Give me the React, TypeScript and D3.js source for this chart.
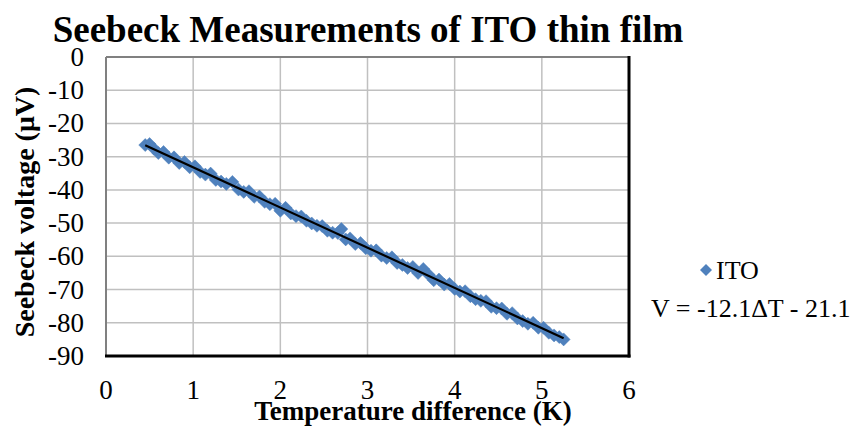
import React from "react";
import * as d3 from "d3";

const xValues = [
  0.45, 0.5, 0.55, 0.6, 0.66, 0.72, 0.78, 0.84, 0.9, 0.96, 1.02, 1.08, 1.14, 1.2, 1.26, 1.32, 1.38, 1.45,
  1.52, 1.58, 1.64, 1.7, 1.76, 1.82, 1.88, 1.94, 2.0, 2.06, 2.12, 2.18, 2.24, 2.3, 2.36, 2.42, 2.48, 2.54,
  2.6, 2.66, 2.7, 2.75, 2.8, 2.86, 2.92, 2.98, 3.04, 3.1, 3.16, 3.22, 3.28, 3.34, 3.4, 3.46, 3.52, 3.58,
  3.64, 3.7, 3.76, 3.82, 3.88, 3.94, 4.0, 4.06, 4.12, 4.18, 4.24, 4.3, 4.36, 4.42, 4.48, 4.54, 4.6, 4.66,
  4.72, 4.78, 4.84, 4.9, 4.96, 5.02, 5.08, 5.14, 5.2, 5.25,
];
const yValues = [
  -26.5, -26.2, -27.6, -28.9, -28.6, -30.3, -30.2, -31.9, -31.6, -33.2, -32.9, -34.6, -35.4, -35.1, -37.0,
  -37.5, -38.2, -37.6, -39.9, -40.6, -40.4, -42.1, -42.0, -43.6, -44.3, -44.2, -46.3, -45.4, -47.1, -47.9,
  -48.0, -49.3, -50.1, -50.8, -50.9, -52.3, -52.9, -53.0, -51.8, -54.9, -54.6, -56.3, -56.0, -57.6, -58.3,
  -58.2, -59.8, -60.5, -60.3, -62.0, -62.6, -63.5, -63.2, -65.0, -63.8, -65.5, -67.2, -67.0, -68.5, -68.3,
  -69.8, -70.6, -70.5, -72.0, -72.9, -73.4, -73.5, -75.2, -75.6, -75.7, -77.3, -77.1, -78.7, -79.5, -80.3,
  -80.0, -81.5, -81.5, -83.0, -83.8, -84.3, -85.0,
];
const xTicks = [0, 1, 2, 3, 4, 5, 6];
const yTicks = [0, -10, -20, -30, -40, -50, -60, -70, -80, -90];
const trendSlope = -12.1;
const trendIntercept = -21.1;
const trendRange = [0.45, 5.25];

const title = "Seebeck Measurements of ITO thin film";
const xTitle = "Temperature difference (K)";
const yTitle = "Seebeck voltage (\u03bcV)";
const seriesName = "ITO";
const equation = "V = -12.1\u0394T - 21.1";

const FONT = "'Liberation Serif', 'Times New Roman', serif";
const BLUE = "#4F81BD";

export default function App() {
  const left = 106, right = 629, top = 57, bottom = 356;
  const x = d3.scaleLinear().domain([0, 6]).range([left, right]);
  const y = d3.scaleLinear().domain([-90, 0]).range([bottom, top]);
  const diamond = (cx: number, cy: number, r: number) =>
    `M${cx},${cy - r}L${cx + r},${cy}L${cx},${cy + r}L${cx - r},${cy}Z`;
  const trend = d3.line<number>().x((d) => x(d)).y((d) => y(trendSlope * d + trendIntercept));

  return (
    <svg
      width={855}
      height={426}
      style={{ position: "absolute", left: 0, top: 0, background: "#fff" }}
      fontFamily={FONT}
    >
      <rect x={0} y={0} width={855} height={426} fill="#fff" />
      <text x={368} y={42} textAnchor="middle" fontSize={37} fontWeight="bold">
        {title}
      </text>
      {/* grid */}
      {xTicks.slice(1, -1).map((t) => (
        <line key={"gx" + t} x1={x(t)} x2={x(t)} y1={top} y2={bottom} stroke="#c0c0c0" strokeWidth={1.5} />
      ))}
      {yTicks.slice(1, -1).map((t) => (
        <line key={"gy" + t} x1={left} x2={right} y1={y(t)} y2={y(t)} stroke="#c0c0c0" strokeWidth={1.5} />
      ))}
      {/* frame */}
      <line x1={left} x2={right} y1={top} y2={top} stroke="#808080" strokeWidth={2} />
      <line x1={left} x2={left} y1={top} y2={bottom} stroke="#808080" strokeWidth={2} />
      <line x1={right} x2={right} y1={top - 1} y2={bottom + 1.5} stroke="#000" strokeWidth={3} />
      <line x1={left - 1} x2={right + 1.5} y1={bottom} y2={bottom} stroke="#000" strokeWidth={3} />
      {/* points */}
      {xValues.map((xv, i) => (
        <path key={"p" + i} d={diamond(x(xv), y(yValues[i]), 6.5)} fill={BLUE} stroke={BLUE} strokeWidth={0.5} />
      ))}
      <path d={trend(trendRange) || ""} stroke="#000" strokeWidth={2.2} fill="none" />
      {/* y ticks */}
      {yTicks.map((t) => (
        <text key={"yt" + t} x={84} y={y(t) + 9} textAnchor="end" fontSize={27}>
          {t}
        </text>
      ))}
      {xTicks.map((t) => (
        <text key={"xt" + t} x={x(t)} y={399} textAnchor="middle" fontSize={27}>
          {t}
        </text>
      ))}
      <text
        transform={`translate(34,212) rotate(-90)`}
        textAnchor="middle"
        fontSize={28}
        fontWeight="bold"
      >
        {yTitle}
      </text>
      <text x={413} y={420} textAnchor="middle" fontSize={27} fontWeight="bold">
        {xTitle}
      </text>
      {/* legend */}
      <path d={diamond(706, 270, 6)} fill={BLUE} />
      <text x={716} y={279} fontSize={26}>
        {seriesName}
      </text>
      <text x={651} y={317} fontSize={26}>
        {equation}
      </text>
    </svg>
  );
}
